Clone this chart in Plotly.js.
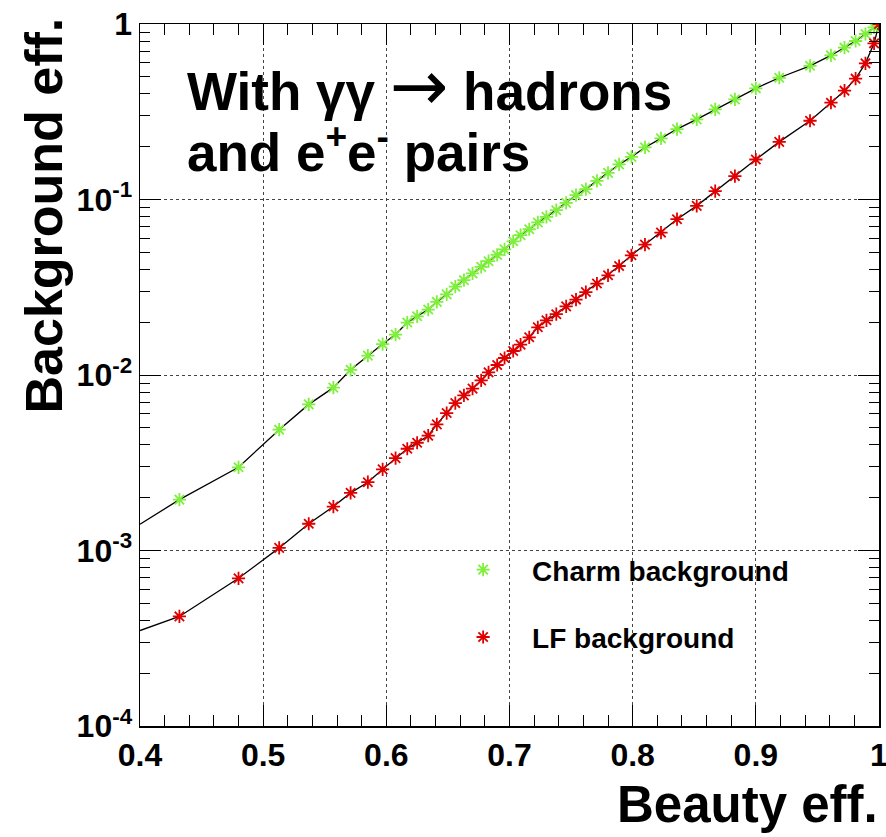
<!DOCTYPE html>
<html>
<head>
<meta charset="utf-8">
<script src="https://cdn.plot.ly/plotly-3.0.1.min.js"></script>
<style>html,body{margin:0;padding:0;background:#fff;}#chart{width:886px;height:837px;}</style>
</head>
<body>
<div id="chart"></div>
<script>
// Beauty efficiency working points (shared by both curves)
const beautyEff = [0.432, 0.480, 0.513, 0.537, 0.557, 0.571, 0.585, 0.597, 0.6075, 0.617,
  0.625, 0.634, 0.641, 0.649, 0.656, 0.663, 0.670, 0.677, 0.683, 0.690,
  0.696, 0.703, 0.709, 0.716, 0.723, 0.730, 0.738, 0.746, 0.754, 0.762,
  0.771, 0.780, 0.789, 0.799, 0.810, 0.823, 0.836, 0.852, 0.867, 0.883,
  0.900, 0.919, 0.944, 0.961, 0.972, 0.981, 0.989, 0.996, 1.0];
const charmBkg = [1.95e-3, 2.98e-3, 4.88e-3, 6.8e-3, 8.47e-3, 1.07e-2, 1.29e-2, 1.50e-2, 1.70e-2, 1.99e-2,
  2.16e-2, 2.36e-2, 2.61e-2, 2.88e-2, 3.19e-2, 3.47e-2, 3.79e-2, 4.13e-2, 4.45e-2, 4.83e-2,
  5.2e-2, 5.78e-2, 6.26e-2, 6.77e-2, 7.40e-2, 7.96e-2, 8.69e-2, 9.57e-2, 0.106, 0.1146,
  0.1277, 0.1418, 0.1584, 0.175, 0.198, 0.223, 0.252, 0.286, 0.326, 0.372,
  0.430, 0.494, 0.578, 0.662, 0.733, 0.800, 0.877, 0.957, 1.0];
const lfBkg = [4.21e-4, 6.94e-4, 1.035e-3, 1.42e-3, 1.78e-3, 2.13e-3, 2.45e-3, 2.9e-3, 3.36e-3, 3.80e-3,
  4.11e-3, 4.51e-3, 5.23e-3, 6.07e-3, 6.92e-3, 7.65e-3, 8.36e-3, 9.31e-3, 1.035e-2, 1.14e-2,
  1.25e-2, 1.37e-2, 1.49e-2, 1.64e-2, 1.87e-2, 2.05e-2, 2.22e-2, 2.46e-2, 2.69e-2, 2.97e-2,
  3.32e-2, 3.70e-2, 4.18e-2, 4.81e-2, 5.53e-2, 6.48e-2, 7.72e-2, 9.2e-2, 0.1115, 0.136,
  0.169, 0.213, 0.281, 0.356, 0.417, 0.488, 0.597, 0.776, 1.0];
// curve values where the lines leave the frame on the left (x = 0.4)
const edgeEff = 0.4;
const charmEdge = 1.41e-3;
const lfEdge = 3.5e-4;

const xTickVals = [0.4, 0.5, 0.6, 0.7, 0.8, 0.9, 1.0];
const xTickText = ['0.4', '0.5', '0.6', '0.7', '0.8', '0.9', '1'];
const yTickVals = [1e-4, 1e-3, 1e-2, 1e-1, 1];
const yTickText = ['10<sup>-4</sup>', '10<sup>-3</sup>', '10<sup>-2</sup>', '10<sup>-1</sup>', '1'];

const green = '#7ef03c';
const red = '#e00000';
const FONT = 'Liberation Sans, Arial, Helvetica, sans-serif';

const yMinor = [];
for (let e = -4; e < 0; e++) for (let m = 2; m <= 9; m++) yMinor.push(m * Math.pow(10, e));
const xMinor = [];
for (let k = 1; k < 30; k++) if (k % 5 !== 0) xMinor.push(0.4 + k * 0.02);

const traces = [
  {x: [edgeEff].concat(beautyEff), y: [charmEdge].concat(charmBkg), mode: 'lines',
   line: {color: '#000', width: 1.3}, showlegend: false, hoverinfo: 'skip'},
  {x: [edgeEff].concat(beautyEff), y: [lfEdge].concat(lfBkg), mode: 'lines',
   line: {color: '#000', width: 1.3}, showlegend: false, hoverinfo: 'skip'},
  {x: beautyEff, y: charmBkg, mode: 'markers', name: 'Charm background', legendgroup: 'c',
   marker: {symbol: 'asterisk-open', size: 11, color: green, line: {color: green, width: 1.8}}},
  {x: beautyEff, y: lfBkg, mode: 'markers', name: 'LF background', legendgroup: 'l',
   marker: {symbol: 'asterisk-open', size: 11, color: red, line: {color: red, width: 1.8}}}
];

const axisCommon = {
  ticks: 'inside', ticklen: 21, tickwidth: 1, tickcolor: '#000',
  showline: true, linecolor: '#000', linewidth: 1.5, mirror: 'ticks',
  showgrid: true, gridcolor: '#444', griddash: 'dot', gridwidth: 1,
  zeroline: false, ticklabeloverflow: 'allow',
  tickfont: {family: FONT, size: 32, weight: 'bold', color: '#000'}
};

const titleFont = {family: FONT, size: 53, weight: 'bold', color: '#000'};

const layout = {
  width: 886, height: 837,
  margin: {l: 140, r: 7, t: 24, b: 111},
  paper_bgcolor: '#fff', plot_bgcolor: '#fff',
  font: {family: FONT, color: '#000'},
  xaxis: Object.assign({}, axisCommon, {
    range: [0.4, 1], tickmode: 'array', tickvals: xTickVals, ticktext: xTickText,
    minor: {tickmode: 'array', tickvals: xMinor, ticks: 'inside', ticklen: 11, tickcolor: '#000', tickwidth: 1, showgrid: false}
  }),
  yaxis: Object.assign({}, axisCommon, {
    type: 'log', range: [-4, 0], tickmode: 'array', tickvals: yTickVals, ticktext: yTickText,
    minor: {tickmode: 'array', tickvals: yMinor, ticks: 'inside', ticklen: 10, tickcolor: '#000', tickwidth: 1, showgrid: false}
  }),
  showlegend: true,
  legend: {x: 0.398, y: 0.258, xanchor: 'left', yanchor: 'top', bgcolor: 'rgba(0,0,0,0)',
    font: {family: FONT, size: 28, weight: 'bold', color: '#000'},
    traceorder: 'grouped', tracegroupgap: 28, itemwidth: 88},
  annotations: [
    {xref: 'paper', yref: 'paper', x: 0.061, y: 0.912, xanchor: 'left', yanchor: 'middle', align: 'left',
     showarrow: false,
     text: 'With γγ <span style="font-family:\'DejaVu Sans\';font-weight:normal;font-size:70px">→</span> hadrons',
     font: titleFont},
    {xref: 'paper', yref: 'paper', x: 0.061, y: 0.822, xanchor: 'left', yanchor: 'middle', align: 'left',
     showarrow: false, text: 'and e<sup>+</sup>e<sup>-</sup> pairs', font: titleFont},
    {xref: 'paper', yref: 'paper', x: 1.002, y: -0.112, xanchor: 'right', yanchor: 'middle',
     showarrow: false, text: 'Beauty eff.', font: {family: FONT, size: 51, weight: 'bold', color: '#000'}},
    {xref: 'paper', yref: 'paper', x: -0.13, y: 1.012, xanchor: 'center', yanchor: 'top', textangle: -90,
     showarrow: false, text: 'Background eff.', font: {family: FONT, size: 52, weight: 'bold', color: '#000'}}
  ]
};

Plotly.newPlot('chart', traces, layout, {displayModeBar: false, staticPlot: true});
</script>
</body>
</html>
